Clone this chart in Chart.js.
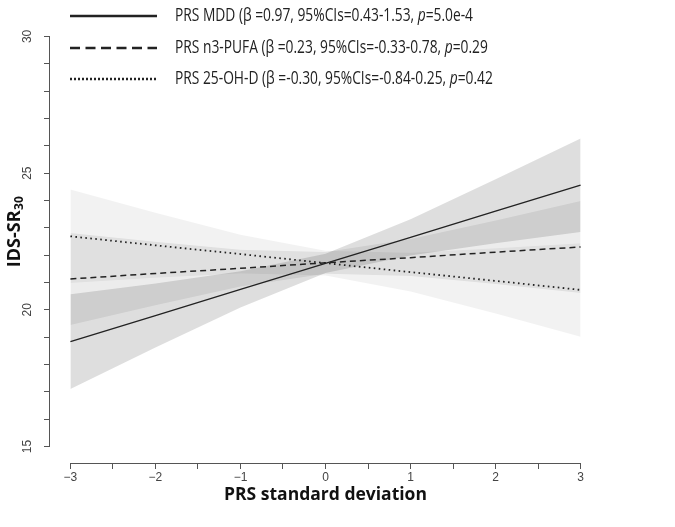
<!DOCTYPE html>
<html>
<head>
<meta charset="utf-8">
<script src="https://cdn.jsdelivr.net/npm/chart.js@4/dist/chart.umd.min.js"></script>
<style>
  html, body { margin: 0; padding: 0; background: #fff; }
  #wrap { width: 675px; height: 527px; }
</style>
</head>
<body>
<div id="wrap"><canvas id="myChart"></canvas></div>
<script>
// PRS standard deviation (x)
const sdValues = [-3, -2, -1, 0, 1, 2, 3];

// PRS MDD
const mddFit   = [18.84, 19.79, 20.75, 21.70, 22.65, 23.61, 24.56];
const mddUpper = [20.57, 20.96, 21.41, 22.05, 23.31, 24.78, 26.27];
const mddLower = [17.11, 18.62, 20.09, 21.35, 21.99, 22.44, 22.85];

// PRS n3-PUFA
const n3Fit   = [21.13, 21.33, 21.52, 21.72, 21.91, 22.11, 22.30];
const n3Upper = [22.81, 22.49, 22.20, 22.12, 22.59, 23.27, 23.98];
const n3Lower = [19.45, 20.17, 20.85, 21.32, 21.24, 20.95, 20.62];

// PRS 25-OH-D
const vitdFit   = [22.69, 22.36, 22.04, 21.71, 21.38, 21.06, 20.73];
const vitdUpper = [24.40, 23.55, 22.75, 22.16, 22.09, 22.25, 22.44];
const vitdLower = [20.98, 21.17, 21.33, 21.26, 20.67, 19.87, 19.02];

const xTicks = [-3, -2.5, -2, -1.5, -1, -0.5, 0, 0.5, 1, 1.5, 2, 2.5, 3];
const xTickLabels = ['\u22123', '\u22122', '\u22121', '0', '1', '2', '3'];
const yTicks = [15, 16, 17, 18, 19, 20, 21, 22, 23, 24, 25, 26, 27, 28, 29, 30];
const yTickLabels = ['15', '20', '25', '30'];

const legendLabels = [
  ['PRS MDD (\u03B2 =0.97, 95%CIs=0.43-1.53, ', 'p', '=5.0e-4'],
  ['PRS n3-PUFA (\u03B2 =0.23, 95%CIs=-0.33-0.78, ', 'p', '=0.29'],
  ['PRS 25-OH-D (\u03B2 =-0.30, 95%CIs=-0.84-0.25, ', 'p', '=0.42']
];

const pts = arr => arr.map((v, i) => ({ x: sdValues[i], y: v }));

const lineColor = '#222';
const lineStyles = [
  { dash: [], width: 1.4 },
  { dash: [6, 4], width: 1.5 },
  { dash: [1.6, 3.4], width: 1.8 }
];

function fitLine(data, st) {
  return { data: pts(data), borderColor: lineColor, borderWidth: st.width, borderDash: st.dash,
           pointRadius: 0, fill: false, tension: 0 };
}
function bandEdge(data, fillColor, isUpper) {
  return { data: pts(data), borderWidth: 0, borderColor: 'rgba(0,0,0,0)', pointRadius: 0,
           backgroundColor: fillColor, fill: isUpper ? '+1' : false, tension: 0 };
}

const data = {
  datasets: [
    fitLine(mddFit, lineStyles[0]),
    fitLine(n3Fit, lineStyles[1]),
    fitLine(vitdFit, lineStyles[2]),
    bandEdge(mddUpper, 'rgba(0,0,0,0.13)', true),
    bandEdge(mddLower, 'rgba(0,0,0,0.13)', false),
    bandEdge(n3Upper, 'rgba(0,0,0,0.075)', true),
    bandEdge(n3Lower, 'rgba(0,0,0,0.075)', false),
    bandEdge(vitdUpper, 'rgba(0,0,0,0.05)', true),
    bandEdge(vitdLower, 'rgba(0,0,0,0.05)', false)
  ]
};

// axis lines only from first to last tick, like base R
const axisLines = {
  id: 'axisLines',
  afterDraw(chart) {
    const { ctx, chartArea, scales: { x, y } } = chart;
    ctx.save();
    ctx.strokeStyle = '#555';
    ctx.lineWidth = 1;
    ctx.beginPath();
    ctx.moveTo(x.getPixelForValue(xTicks[0]), chartArea.bottom + 0.5);
    ctx.lineTo(x.getPixelForValue(xTicks[xTicks.length - 1]), chartArea.bottom + 0.5);
    ctx.moveTo(chartArea.left - 0.5, y.getPixelForValue(yTicks[0]));
    ctx.lineTo(chartArea.left - 0.5, y.getPixelForValue(yTicks[yTicks.length - 1]));
    ctx.stroke();

    // y title with subscript
    ctx.translate(15, 232);
    ctx.rotate(-Math.PI / 2);
    ctx.fillStyle = '#111';
    ctx.textBaseline = 'middle';
    ctx.font = 'bold 18px "Open Sans"';
    const w1 = ctx.measureText('IDS-SR').width;
    ctx.font = 'bold 12px "Open Sans"';
    const w2 = ctx.measureText('30').width;
    let sx = -(w1 + w2) / 2;
    ctx.font = 'bold 18px "Open Sans"';
    ctx.fillText('IDS-SR', sx, 0);
    ctx.font = 'bold 12px "Open Sans"';
    ctx.fillText('30', sx + w1 + 0.5, 5);
    ctx.restore();
  }
};

// legend at the top, drawn from the line datasets' styles
const topLegend = {
  id: 'topLegend',
  afterDraw(chart) {
    const { ctx } = chart;
    const rowsY = [16, 48, 79];
    ctx.save();
    // squeeze the text to the narrow face of the original
    let w0 = 0;
    legendLabels[0].forEach((p, k) => {
      ctx.font = (k === 1 ? 'italic ' : '') + '18px "Open Sans"';
      w0 += ctx.measureText(p).width;
    });
    const squeeze = 298 / w0;
    legendLabels.forEach((parts, i) => {
      const ds = chart.data.datasets[i];
      const yy = rowsY[i];
      ctx.strokeStyle = ds.borderColor;
      ctx.lineWidth = 2.6;
      ctx.setLineDash(i === 0 ? [] : (i === 1 ? [10, 5.5] : [2, 2]));
      ctx.beginPath();
      ctx.moveTo(70, yy);
      ctx.lineTo(157, yy);
      ctx.stroke();
      ctx.setLineDash([]);
      ctx.fillStyle = '#222';
      ctx.textBaseline = 'middle';
      ctx.save();
      ctx.translate(175, yy);
      ctx.scale(squeeze, 1);
      let tx = 0;
      parts.forEach((p, k) => {
        ctx.font = (k === 1 ? 'italic ' : '') + '18px "Open Sans"';
        ctx.fillText(p, tx, 0);
        tx += ctx.measureText(p).width;
      });
      ctx.restore();
    });
    ctx.restore();
  }
};

const config = {
  type: 'line',
  data,
  options: {
    responsive: true,
    maintainAspectRatio: false,
    animation: false,
    layout: { padding: { top: 20, right: 74, left: 0, bottom: 0 } },
    plugins: { legend: { display: false }, tooltip: { enabled: false } },
    scales: {
      x: {
        type: 'linear',
        min: -3.24,
        max: 3.24,
        afterBuildTicks: s => { s.ticks = xTicks.map(v => ({ value: v })); },
        afterFit: s => { s.height = 64; },
        border: { display: false },
        grid: { drawOnChartArea: false, drawTicks: true, tickLength: 6, color: '#555', lineWidth: 1 },
        ticks: {
          autoSkip: false, maxRotation: 0, padding: 1, color: '#444',
          font: { family: 'Liberation Sans', size: 12 },
          callback: v => Number.isInteger(v) ? xTickLabels[v + 3] : ''
        },
        title: {
          display: true, text: 'PRS standard deviation', color: '#111',
          font: { family: 'Open Sans', weight: 'bold', size: 17.5 },
          padding: { top: 0, bottom: 21 }
        }
      },
      y: {
        min: 14.4,
        max: 30.6,
        afterBuildTicks: s => { s.ticks = yTicks.map(v => ({ value: v })); },
        afterFit: s => { s.width = 50; },
        border: { display: false },
        grid: { drawOnChartArea: false, drawTicks: true, tickLength: 6, color: '#555', lineWidth: 1 },
        ticks: {
          autoSkip: false, minRotation: 90, maxRotation: 90, crossAlign: 'center', padding: 10,
          color: '#444', font: { family: 'Liberation Sans', size: 12 },
          callback: v => yTickLabels.includes(String(v)) ? String(v) : ''
        }
      }
    }
  },
  plugins: [axisLines, topLegend]
};

const myChart = new Chart(document.getElementById('myChart'), config);
</script>
</body>
</html>
